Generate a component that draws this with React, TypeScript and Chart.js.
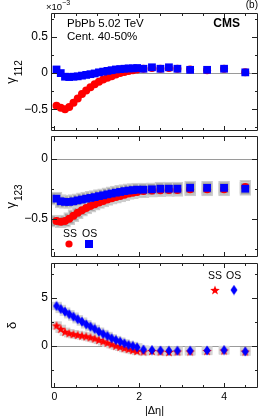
import React, { useEffect, useRef } from "react";
import { Chart, registerables } from "chart.js";
Chart.register(...registerables);

// ---------------- data ----------------
const xDense = [0.05, 0.15, 0.25, 0.35, 0.45, 0.55, 0.65, 0.75, 0.85, 0.95, 1.05, 1.15, 1.25, 1.35, 1.45, 1.55, 1.65, 1.75, 1.85, 1.95];
const xSparse = [2.1, 2.3, 2.5, 2.7, 2.9, 3.2, 3.6, 4.0, 4.5];
const deltaEta = [...xDense, ...xSparse];

// gamma112 (x10^-3)
const g112SS = [-0.45, -0.48, -0.5, -0.47, -0.41, -0.35, -0.29, -0.24, -0.195, -0.155, -0.12, -0.09, -0.065, -0.045, -0.02, 0.0, 0.015, 0.03, 0.04, 0.05,
  0.06, 0.07, 0.06, 0.07, 0.06, 0.05, 0.04, 0.06, 0.01];
const g112OS = [0.05, 0.0, -0.05, -0.055, -0.05, -0.045, -0.035, -0.025, -0.015, -0.005, 0.01, 0.02, 0.03, 0.04, 0.05, 0.055, 0.06, 0.065, 0.065, 0.07,
  0.06, 0.08, 0.06, 0.08, 0.06, 0.045, 0.045, 0.06, 0.01];

// gamma123 (x10^-3)
const g123SS = [-0.52, -0.525, -0.52, -0.5, -0.475, -0.45, -0.43, -0.41, -0.395, -0.38, -0.365, -0.352, -0.34, -0.33, -0.32, -0.31, -0.3, -0.29, -0.283, -0.277,
  -0.27, -0.265, -0.262, -0.26, -0.26, -0.255, -0.255, -0.255, -0.235];
const g123OS = [-0.333, -0.355, -0.36, -0.36, -0.355, -0.347, -0.34, -0.333, -0.327, -0.32, -0.312, -0.305, -0.297, -0.29, -0.283, -0.277, -0.27, -0.265, -0.262, -0.258,
  -0.258, -0.255, -0.25, -0.25, -0.25, -0.242, -0.243, -0.243, -0.25];
const g123SysSS = [0.05, 0.05, 0.05, 0.05, 0.05, 0.05, 0.05, 0.05, 0.05, 0.05, 0.05, 0.05, 0.05, 0.05, 0.05, 0.05, 0.05, 0.05, 0.05, 0.05,
  0.055, 0.055, 0.055, 0.055, 0.055, 0.055, 0.055, 0.055, 0.055];
const g123SysOS = [0.055, 0.055, 0.055, 0.055, 0.055, 0.055, 0.055, 0.055, 0.055, 0.055, 0.055, 0.055, 0.055, 0.055, 0.055, 0.055, 0.055, 0.055, 0.055, 0.055,
  0.055, 0.055, 0.055, 0.055, 0.055, 0.055, 0.055, 0.055, 0.055];

// delta
const deltaSS = [2.1, 1.75, 1.45, 1.3, 1.2, 1.12, 1.05, 0.97, 0.87, 0.75, 0.6, 0.45, 0.3, 0.15, 0.0, -0.12, -0.25, -0.35, -0.45, -0.55,
  -0.6, -0.55, -0.6, -0.65, -0.6, -0.6, -0.55, -0.5, -0.6];
const deltaOS = [4.13, 3.82, 3.54, 3.27, 3.02, 2.75, 2.5, 2.22, 1.98, 1.74, 1.46, 1.22, 1.01, 0.77, 0.59, 0.42, 0.24, 0.07, -0.03, -0.17,
  -0.4, -0.45, -0.5, -0.52, -0.52, -0.52, -0.5, -0.45, -0.6];
const deltaSysSS = [0.4, 0.4, 0.4, 0.4, 0.4, 0.4, 0.4, 0.4, 0.4, 0.4, 0.4, 0.4, 0.4, 0.4, 0.4, 0.4, 0.4, 0.4, 0.4, 0.4,
  0.4, 0.4, 0.4, 0.4, 0.4, 0.4, 0.4, 0.4, 0.4];
const deltaSysOS = [0.4, 0.4, 0.4, 0.4, 0.4, 0.4, 0.4, 0.4, 0.4, 0.4, 0.4, 0.4, 0.4, 0.4, 0.4, 0.4, 0.4, 0.4, 0.4, 0.4,
  0.4, 0.4, 0.4, 0.4, 0.4, 0.4, 0.4, 0.4, 0.4];

// axes / ticks
const xRange = [-0.08, 4.8];
const xLabelTicks = [0, 2, 4];
const xMinorTicks = [0.5, 1, 1.5, 2.5, 3, 3.5, 4.5];

const y1Range = [-0.8, 0.83];
const y1Labels = [-0.5, 0, 0.5];
const y1Minor = [-0.75, -0.25, 0.25, 0.75];

const y2Range = [-0.82, 0.19];
const y2Labels = [-0.5, 0];
const y2Minor = [-0.75, -0.25];

const y3Range = [-4.4, 8.6];
const y3Labels = [0, 5];
const y3Minor = [-2.5, 2.5, 7.5];

// ---------------- styling helpers ----------------
const FONT = '"Liberation Sans", Arial, Helvetica, sans-serif';
const RED = "#ff0000";
const BLUE = "#0000ff";

function fmt(v: number) {
  if (v === 0) return "0";
  return (v < 0 ? "\u2212" : "") + String(Math.abs(v));
}

function makeStar(color: string, rOut: number, rIn: number) {
  const c = document.createElement("canvas");
  const s = Math.ceil(rOut * 2 + 2);
  c.width = s; c.height = s;
  const ctx = c.getContext("2d")!;
  ctx.fillStyle = color;
  ctx.beginPath();
  for (let i = 0; i < 10; i++) {
    const r = i % 2 === 0 ? rOut : rIn;
    const a = -Math.PI / 2 + (i * Math.PI) / 5;
    const px = s / 2 + r * Math.cos(a);
    const py = s / 2 + r * Math.sin(a) + 0.5;
    if (i === 0) ctx.moveTo(px, py); else ctx.lineTo(px, py);
  }
  ctx.closePath();
  ctx.fill();
  return c;
}

function makeDiamond(color: string, w: number, h: number) {
  const c = document.createElement("canvas");
  c.width = Math.ceil(w + 1); c.height = Math.ceil(h + 1);
  const ctx = c.getContext("2d")!;
  const cx = c.width / 2, cy = c.height / 2;
  ctx.fillStyle = color;
  ctx.beginPath();
  ctx.moveTo(cx, cy - h / 2);
  ctx.lineTo(cx + w / 2, cy);
  ctx.lineTo(cx, cy + h / 2);
  ctx.lineTo(cx - w / 2, cy);
  ctx.closePath();
  ctx.fill();
  return c;
}

function drawYTitle(ctx: CanvasRenderingContext2D, main: string, sub: string, centerY: number, baseX: number, subBaseX: number, mainSize: number, subSize: number) {
  ctx.save();
  ctx.font = `${mainSize}px ${FONT}`;
  const wMain = ctx.measureText(main).width;
  ctx.font = `${subSize}px ${FONT}`;
  const wSub = sub ? ctx.measureText(sub).width : 0;
  const total = wMain + (sub ? wSub + 1 : 0);
  ctx.translate(baseX, centerY + total / 2);
  ctx.rotate(-Math.PI / 2);
  ctx.fillStyle = "#000";
  ctx.textAlign = "left";
  ctx.textBaseline = "alphabetic";
  ctx.font = `${mainSize}px ${FONT}`;
  ctx.fillText(main, 0, 0);
  if (sub) {
    ctx.font = `${subSize}px ${FONT}`;
    ctx.fillText(sub, wMain + 1, subBaseX - baseX);
  }
  ctx.restore();
}

function framePlugin(yMajor: number[], yMinor: number[], extra: (chart: any) => void) {
  return {
    id: "rootFrame",
    beforeDatasetsDraw(chart: any) {
      const { ctx, chartArea } = chart;
      const ys = chart.scales.y;
      const y0 = Math.round(ys.getPixelForValue(0)) + 0.5;
      ctx.save();
      ctx.strokeStyle = "#9a9a9a";
      ctx.lineWidth = 1;
      ctx.beginPath();
      ctx.moveTo(chartArea.left, y0);
      ctx.lineTo(chartArea.right, y0);
      ctx.stroke();
      ctx.restore();
    },
    afterDraw(chart: any) {
      const { ctx, chartArea } = chart;
      const { left, right, top, bottom } = chartArea;
      const xs = chart.scales.x;
      const ys = chart.scales.y;
      ctx.save();
      ctx.strokeStyle = "#222";
      ctx.lineWidth = 1;
      ctx.beginPath();
      ctx.rect(Math.round(left) + 0.5, Math.round(top) + 0.5, Math.round(right - left) - 1, Math.round(bottom - top) - 1);
      ctx.stroke();
      ctx.beginPath();
      const xt = (v: number, len: number) => {
        const px = Math.round(xs.getPixelForValue(v)) + 0.5;
        ctx.moveTo(px, bottom); ctx.lineTo(px, bottom - len);
        ctx.moveTo(px, top); ctx.lineTo(px, top + len);
      };
      xLabelTicks.forEach((v) => xt(v, 5));
      xMinorTicks.forEach((v) => xt(v, 3));
      const yt = (v: number, len: number) => {
        const py = Math.round(ys.getPixelForValue(v)) + 0.5;
        ctx.moveTo(left, py); ctx.lineTo(left + len, py);
        ctx.moveTo(right, py); ctx.lineTo(right - len, py);
      };
      yMajor.forEach((v) => yt(v, 6));
      yMinor.forEach((v) => yt(v, 3));
      ctx.stroke();
      ctx.restore();
      extra(chart);
    },
  };
}

function pts(ys: number[]) {
  return deltaEta.map((x, i) => ({ x, y: ys[i] }));
}
function boxes(ys: number[], sys: number[]) {
  return deltaEta.map((x, i) => ({ x, y: [ys[i] - sys[i], ys[i] + sys[i]] }));
}

function baseOptions(padding: any, yRange: number[], yLabels: number[], showX: boolean) {
  return {
    animation: false,
    responsive: false,
    devicePixelRatio: 1,
    events: [],
    layout: { padding },
    plugins: { legend: { display: false }, tooltip: { enabled: false } },
    scales: {
      x: {
        type: "linear",
        min: xRange[0],
        max: xRange[1],
        offset: false,
        display: showX,
        grid: { display: false, drawTicks: false },
        border: { display: false },
        afterBuildTicks: (s: any) => { s.ticks = xLabelTicks.map((v) => ({ value: v })); },
        afterFit: (s: any) => { if (showX) s.height = 30; },
        ticks: { color: "#000", font: { family: FONT, size: 10.5 }, padding: 3, maxRotation: 0, callback: (v: any) => fmt(Number(v)) },
      },
      y: {
        type: "linear",
        min: yRange[0],
        max: yRange[1],
        grid: { display: false, drawTicks: false },
        border: { display: false },
        afterBuildTicks: (s: any) => { s.ticks = yLabels.map((v) => ({ value: v })); },
        afterFit: (s: any) => { s.width = 51; },
        ticks: { color: "#000", font: { family: FONT, size: 12 }, padding: 3, callback: (v: any) => fmt(Number(v)) },
      },
    },
  };
}

export default function App() {
  const c1 = useRef<HTMLCanvasElement>(null);
  const c2 = useRef<HTMLCanvasElement>(null);
  const c3 = useRef<HTMLCanvasElement>(null);

  useEffect(() => {
    const star = makeStar(RED, 5, 2.1);
    const diamond = makeDiamond(BLUE, 7, 10);

    const ch1 = new Chart(c1.current!, {
      type: "scatter",
      data: {
        datasets: [
          { label: "OS", data: pts(g112OS), pointStyle: "rect", pointRadius: 5.5, pointBackgroundColor: BLUE, pointBorderWidth: 0, order: 0 } as any,
          { label: "SS", data: pts(g112SS), pointStyle: "circle", pointRadius: 4, pointBackgroundColor: RED, pointBorderWidth: 0, order: 1 } as any,
        ],
      },
      options: baseOptions({ top: 13, bottom: 418 - 131, left: 0, right: 8 }, y1Range, y1Labels, false) as any,
      plugins: [
        framePlugin(y1Labels, y1Minor, (chart: any) => {
          const { ctx, chartArea } = chart;
          ctx.save();
          ctx.fillStyle = "#000";
          ctx.textBaseline = "alphabetic";
          ctx.textAlign = "left";
          ctx.font = `9.5px ${FONT}`;
          ctx.fillText("\u00d710", 46, 10);
          const w = ctx.measureText("\u00d710").width;
          ctx.font = `7px ${FONT}`;
          ctx.fillText("\u22123", 46 + w, 5);
          ctx.textAlign = "right";
          ctx.font = `10px ${FONT}`;
          ctx.fillText("(b)", chartArea.right, 8);
          ctx.textAlign = "left";
          ctx.font = `11.5px ${FONT}`;
          ctx.fillText("PbPb 5.02 TeV", 67, 27);
          ctx.fillText("Cent. 40-50%", 67, 40);
          ctx.textAlign = "right";
          ctx.font = `bold 12px ${FONT}`;
          ctx.fillText("CMS", 240, 27);
          ctx.restore();
          drawYTitle(ctx, "\u03b3", "112", (chartArea.top + chartArea.bottom) / 2, 15, 22, 13, 10);
        }),
      ],
    });

    const ch2 = new Chart(c2.current!, {
      type: "scatter",
      data: {
        datasets: [
          { label: "OS", data: pts(g123OS), pointStyle: "rect", pointRadius: 5.5, pointBackgroundColor: BLUE, pointBorderWidth: 0, order: 0 } as any,
          { label: "SS", data: pts(g123SS), pointStyle: "circle", pointRadius: 4, pointBackgroundColor: RED, pointBorderWidth: 0, order: 1 } as any,
          { type: "bar", label: "OS sys", data: boxes(g123OS, g123SysOS), barThickness: 11, grouped: false, backgroundColor: "#a3a3a3", borderColor: "#cdcdcd", borderWidth: 1.5, borderSkipped: false, order: 2 } as any,
          { type: "bar", label: "SS sys", data: boxes(g123SS, g123SysSS), barThickness: 11, grouped: false, backgroundColor: "#a3a3a3", borderColor: "#cdcdcd", borderWidth: 1.5, borderSkipped: false, order: 3 } as any,
        ],
      },
      options: baseOptions({ top: 136, bottom: 418 - 257, left: 0, right: 8 }, y2Range, y2Labels, false) as any,
      plugins: [
        framePlugin(y2Labels, y2Minor, (chart: any) => {
          const { ctx, chartArea } = chart;
          const L = chartArea.left;
          ctx.save();
          ctx.fillStyle = "#000";
          ctx.font = `10.5px ${FONT}`;
          ctx.textAlign = "left";
          ctx.textBaseline = "alphabetic";
          ctx.fillText("SS", L + 12, 237);
          ctx.fillText("OS", L + 31, 237);
          ctx.fillStyle = RED;
          ctx.beginPath();
          ctx.arc(L + 18, 244, 3.6, 0, Math.PI * 2);
          ctx.fill();
          ctx.fillStyle = BLUE;
          ctx.fillRect(L + 34, 240, 8, 8);
          ctx.restore();
          drawYTitle(ctx, "\u03b3", "123", (chartArea.top + chartArea.bottom) / 2, 15, 22, 13, 10);
        }),
      ],
    });

    const ch3 = new Chart(c3.current!, {
      type: "scatter",
      data: {
        datasets: [
          { label: "OS", data: pts(deltaOS), pointStyle: diamond, pointRadius: 5, pointBorderWidth: 0, order: 0 } as any,
          { label: "SS", data: pts(deltaSS), pointStyle: star, pointRadius: 5, pointBorderWidth: 0, order: 1 } as any,
          { type: "bar", label: "OS sys", data: boxes(deltaOS, deltaSysOS), barThickness: 10, grouped: false, backgroundColor: "#d4d4d4", borderWidth: 0, order: 2 } as any,
          { type: "bar", label: "SS sys", data: boxes(deltaSS, deltaSysSS), barThickness: 10, grouped: false, backgroundColor: "#d4d4d4", borderWidth: 0, order: 3 } as any,
        ],
      },
      options: baseOptions({ top: 263, bottom: 0, left: 0, right: 8 }, y3Range, y3Labels, true) as any,
      plugins: [
        framePlugin(y3Labels, y3Minor, (chart: any) => {
          const { ctx, chartArea } = chart;
          ctx.save();
          ctx.fillStyle = "#000";
          ctx.font = `10.5px ${FONT}`;
          ctx.textAlign = "left";
          ctx.textBaseline = "alphabetic";
          ctx.fillText("SS", 208, 279);
          ctx.fillText("OS", 226, 279);
          ctx.drawImage(star, 215 - star.width / 2, 290 - star.height / 2);
          ctx.drawImage(diamond, 234 - diamond.width / 2, 290 - diamond.height / 2);
          ctx.textAlign = "center";
          ctx.font = `11px ${FONT}`;
          ctx.fillText("|\u0394\u03b7|", (chartArea.left + chartArea.right) / 2, 414);
          ctx.restore();
          drawYTitle(ctx, "\u03b4", "", (chartArea.top + chartArea.bottom) / 2, 16, 16, 13, 10);
        }),
      ],
    });

    return () => {
      ch1.destroy();
      ch2.destroy();
      ch3.destroy();
    };
  }, []);

  const cs: React.CSSProperties = { position: "absolute", left: 0, top: 0, width: 266, height: 418 };
  return (
    <div style={{ position: "absolute", left: 0, top: 0, width: 266, height: 418, background: "#fff" }}>
      <canvas ref={c1} width={266} height={418} style={cs} />
      <canvas ref={c2} width={266} height={418} style={cs} />
      <canvas ref={c3} width={266} height={418} style={cs} />
    </div>
  );
}
